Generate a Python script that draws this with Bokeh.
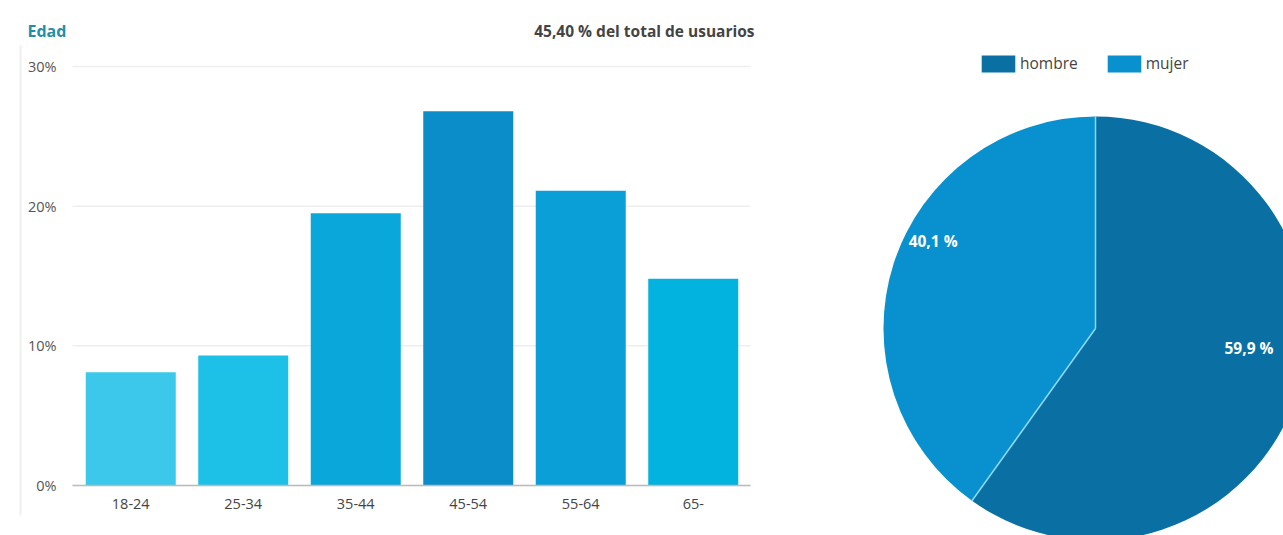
import math
from bokeh.plotting import figure
from bokeh.models import (Range1d, FixedTicker, Label, Legend, LegendItem,
                          ColumnDataSource, LinearAxis)
from bokeh.layouts import row
from bokeh.core.properties import value
from bokeh.embed import file_html
from bokeh.resources import INLINE

# ---------------- data ----------------
age_groups = ["18-24", "25-34", "35-44", "45-54", "55-64", "65-"]
age_share = [8.1, 9.3, 19.5, 26.8, 21.1, 14.8]          # % of users
y_ticks = [0, 10, 20, 30]
y_tick_labels = ["0%", "10%", "20%", "30%"]
chart_title = "Edad"
chart_note = "45,40 % del total de usuarios"

genders = ["hombre", "mujer"]
gender_share = [59.9, 40.1]
gender_labels = ["59,9 %", "40,1 %"]

# ---------------- styles ----------------
FONT = "Open Sans"
bar_colors = ["#3cc8ea", "#1dc1e7", "#0aa7da", "#0a8dc9", "#0a9fd7", "#02b3e0"]
pie_colors = ["#0a70a3", "#0890cf"]

W1, H = 860, 535
FRAME_L, FRAME_R, FRAME_T, FRAME_B = 74, 749, 66, 485      # pixel box of the bar area
n = len(age_groups)
ymax = 30
px_per_cat = (FRAME_R - FRAME_L) / n
px_per_unit = (FRAME_B - FRAME_T) / ymax

def dx(px):   # page pixel -> data x
    return (px - FRAME_L) / px_per_cat

def dy(py):   # page pixel -> data y
    return (FRAME_B - py) / px_per_unit

# ---------------- bar chart ----------------
p = figure(x_range=Range1d(dx(0), dx(W1)), y_range=Range1d(dy(H), dy(0)),
           width=W1, height=H, min_border=0, x_axis_type=None, y_axis_type=None,
           output_backend="svg", toolbar_location=None)
p.frame_align = False
p.outline_line_color = None
p.grid.visible = False

x_pos = [i + 0.5 for i in range(n)]
src = ColumnDataSource(dict(x=x_pos, val=age_share, color=bar_colors, cat=age_groups))

# horizontal grid lines
p.segment(x0=[dx(FRAME_L - 2)] * len(y_ticks), x1=[dx(FRAME_R + 1)] * len(y_ticks),
          y0=y_ticks, y1=y_ticks, line_color="#eeeeee", line_width=1.5)
# faint panel border on the left
p.segment(x0=[dx(20)], x1=[dx(20)], y0=[dy(515)], y1=[dy(45)], line_color="#f0f0f0", line_width=2)

p.vbar(x="x", top="val", width=0.8, bottom=0, fill_color="color", line_color=None, source=src)

yaxis = LinearAxis(fixed_location=0, ticker=FixedTicker(ticks=y_ticks),
                   major_label_overrides={t: l for t, l in zip(y_ticks, y_tick_labels)},
                   axis_line_color=None, major_tick_line_color=None, minor_tick_line_color=None,
                   major_label_standoff=12, major_label_text_font=FONT,
                   major_label_text_font_size="14.5px", major_label_text_color="#555555")
p.add_layout(yaxis, "left")

xaxis = LinearAxis(fixed_location=0, bounds=(dx(FRAME_L - 2), dx(FRAME_R + 1)),
                   ticker=FixedTicker(ticks=x_pos),
                   major_label_overrides={x: c for x, c in zip(x_pos, age_groups)},
                   axis_line_color="#bbbbbb", axis_line_width=1.5,
                   major_tick_line_color=None, minor_tick_line_color=None,
                   major_label_standoff=7, major_label_text_font=FONT,
                   major_label_text_font_size="14.5px", major_label_text_color="#444444")
p.add_layout(xaxis, "below")

p.add_layout(Label(x=dx(27), y=dy(30), text=chart_title,
                   text_font=FONT, text_font_size="16px", text_font_style="bold",
                   text_color="#1f8fab", text_baseline="middle"))
p.add_layout(Label(x=dx(754), y=dy(30), text=chart_note,
                   text_font=FONT, text_font_size="15.5px", text_font_style="bold",
                   text_color="#444444", text_align="right", text_baseline="middle"))

# ---------------- pie chart ----------------
W2 = 1283 - W1
q = figure(x_range=Range1d(0, W2), y_range=Range1d(0, H), width=W2, height=H,
           min_border=0, output_backend="svg", toolbar_location=None)
q.frame_align = False
q.outline_line_color = None
q.axis.visible = False
q.grid.visible = False

cx, cy, R = 1095 - W1, H - 328, 212
total = sum(gender_share)
starts, ends, mids = [], [], []
a = math.pi / 2
for v in gender_share:
    sweep = 2 * math.pi * v / total
    starts.append(a - sweep)
    ends.append(a)
    mids.append(a - sweep / 2)
    a -= sweep

wsrc = ColumnDataSource(dict(start=starts, end=ends, color=pie_colors, name=genders))
wr = q.wedge(x=cx, y=cy, radius=R, start_angle="start", end_angle="end",
             direction="anticlock", fill_color="color", line_color=None, source=wsrc)

bx = [cx + R * math.cos(s) for s in starts]
by = [cy + R * math.sin(s) for s in starts]
q.segment(x0=[cx] * len(bx), y0=[cy] * len(by), x1=bx, y1=by,
          line_color="#8ed8f2", line_width=1.5)

label_shift = [math.radians(10.5), math.radians(-10.5)]
label_r = [0.73, 0.87]
lx = [cx + R * k * math.cos(m + s) for m, s, k in zip(mids, label_shift, label_r)]
ly = [cy + R * k * math.sin(m + s) for m, s, k in zip(mids, label_shift, label_r)]
q.text(x=lx, y=ly, text=gender_labels, text_font=value(FONT), text_font_size="15.5px",
       text_font_style="bold", text_color="white", text_align="center",
       text_baseline="middle")

legend = Legend(items=[LegendItem(label=g, renderers=[wr], index=i) for i, g in enumerate(genders)],
                orientation="horizontal", location=(117, 461),
                padding=0, margin=0, spacing=25, glyph_width=42, glyph_height=21,
                label_standoff=1, label_text_font=FONT, label_text_font_size="15.5px",
                label_text_color="#444444", border_line_color=None,
                background_fill_alpha=0)
q.add_layout(legend)

out = row(p, q, spacing=0)
open("out.html", "w").write(file_html(out, INLINE))
